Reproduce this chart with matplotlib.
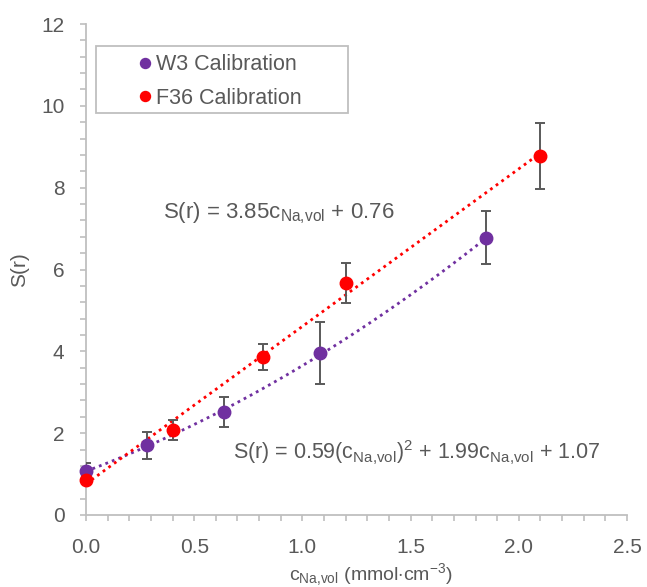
import matplotlib
matplotlib.use("Agg")
import matplotlib.pyplot as plt
import numpy as np
from matplotlib.ticker import MultipleLocator, FormatStrFormatter
from matplotlib.patches import Rectangle

plt.rcParams['font.family'] = ['Liberation Sans', 'DejaVu Sans']
plt.rcParams['mathtext.fontset'] = 'custom'
plt.rcParams['mathtext.rm'] = 'Liberation Sans'
plt.rcParams['mathtext.it'] = 'Liberation Sans:italic'

# Data
w3_x = [0.0, 0.28, 0.64, 1.08, 1.85]
w3_y = [1.07, 1.70, 2.52, 3.96, 6.78]
w3_err = [0.20, 0.34, 0.37, 0.75, 0.65]

f36_x = [0.0, 0.40, 0.82, 1.20, 2.10]
f36_y = [0.85, 2.08, 3.86, 5.67, 8.77]
f36_err = [0.10, 0.25, 0.32, 0.49, 0.80]

# Trendline coefficients (from equations on chart)
f36_coef = [3.85, 0.76]
w3_coef = [0.59, 1.99, 1.07]

purple = '#7030A0'
red = '#FF0000'
gray = '#595959'
axgray = '#BFBFBF'

W, H = 647, 587
fig = plt.figure(figsize=(W / 100, H / 100), dpi=100)
ax = fig.add_axes([86 / W, 1 - 515 / H, 541 / W, 491 / H])

xs = np.linspace(0, max(w3_x), 100)
ax.plot(xs, np.polyval(w3_coef, xs), color=purple, lw=2.0, ls=(0, (1, 1.5)), zorder=2)
xs2 = np.linspace(0, max(f36_x), 100)
ax.plot(xs2, np.polyval(f36_coef, xs2), color=red, lw=2.0, ls=(0, (1, 1.5)), zorder=2)

ax.errorbar(w3_x, w3_y, yerr=w3_err, fmt='none', ecolor=gray, elinewidth=1.4, capsize=3.6, capthick=1.4, zorder=3)
ax.errorbar(f36_x, f36_y, yerr=f36_err, fmt='none', ecolor=gray, elinewidth=1.4, capsize=3.6, capthick=1.4, zorder=3)
ax.plot(w3_x, w3_y, 'o', color=purple, ms=9, label='W3 Calibration', zorder=4, clip_on=False)
ax.plot(f36_x, f36_y, 'o', color=red, ms=9, label='F36 Calibration', zorder=4, clip_on=False)

ax.set_xlim(0, 2.5)
ax.set_ylim(0, 12)
ax.xaxis.set_major_locator(MultipleLocator(0.5))
ax.xaxis.set_minor_locator(MultipleLocator(0.1))
ax.yaxis.set_major_locator(MultipleLocator(2))
ax.yaxis.set_minor_locator(MultipleLocator(0.4))
ax.xaxis.set_major_formatter(FormatStrFormatter('%.1f'))

for s in ['top', 'right']:
    ax.spines[s].set_visible(False)
for s in ['left', 'bottom']:
    ax.spines[s].set_color(axgray)
    ax.spines[s].set_linewidth(1.3)
ax.tick_params(which='both', colors=axgray, labelcolor=gray, labelsize=15, width=1.2, length=4.5)
ax.tick_params(axis='x', pad=12)
ax.tick_params(axis='y', pad=11)

ax.set_xlabel(r'c$_{\mathrm{Na{,}vol}}$ (mmol$\cdot$cm$^{\mathrm{-3}}$)', color=gray, fontsize=14)
ax.xaxis.label.set_va('center')
ax.xaxis.set_label_coords(371 / W, 12 / H, transform=fig.transFigure)
ax.set_ylabel('S(r)', color=gray, fontsize=15)
ax.yaxis.label.set_va('center')
ax.yaxis.set_label_coords(20 / W, 1 - 270 / H, transform=fig.transFigure)

ax.text(0.355, 7.24, r'S(r) = 3.85c$_{\mathrm{Na{,}vol}}$ + 0.76', color=gray, fontsize=16,
        va='baseline', ha='left')
ax.text(0.68, 1.37, r'S(r) = 0.59(c$_{\mathrm{Na{,}vol}}$)$^2$ + 1.99c$_{\mathrm{Na{,}vol}}$ + 1.07',
        color=gray, fontsize=15.5, va='baseline', ha='left')

# Legend
box = Rectangle((96 / W, 1 - 113 / H), 252 / W, 67 / H, transform=fig.transFigure,
                facecolor='white', edgecolor=axgray, lw=1.3, zorder=5, clip_on=False)
ax.add_patch(box)
leg = ax.legend(loc='center left', bbox_to_anchor=(136 / W, 1 - 81.5 / H), bbox_transform=fig.transFigure,
                fontsize=15.5, frameon=False, handletextpad=0.15, handlelength=0.8,
                borderpad=0, labelspacing=0.6, markerscale=0.8, borderaxespad=0)
leg.set_zorder(6)
for t in leg.get_texts():
    t.set_color(gray)

fig.savefig('out.png', dpi=100)
